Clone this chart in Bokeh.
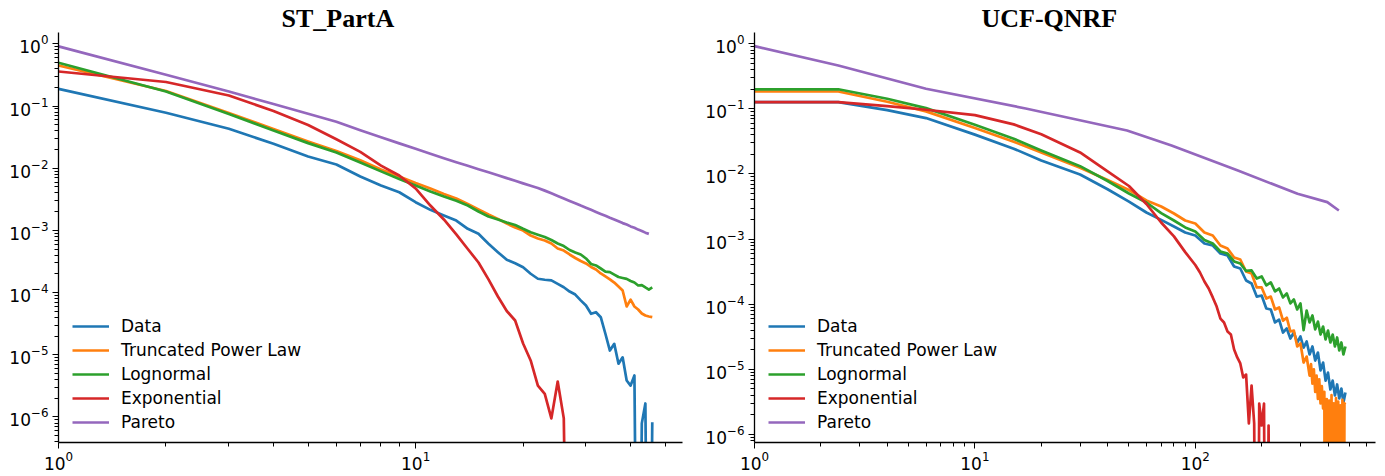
from bokeh.plotting import figure
from bokeh.layouts import row
from bokeh.models import FixedTicker, Range1d
from bokeh.embed import file_html
from bokeh.resources import INLINE

NAMES = ["Data", "Truncated Power Law", "Lognormal", "Exponential", "Pareto"]
COLORS = ["#1f77b4", "#ff7f0e", "#2ca02c", "#d62728", "#9467bd"]

# ---------------- ST_PartA ----------------
A_X = [1, 2, 3, 4, 5, 6, 7, 8, 9, 10, 11, 12, 13, 14, 15, 16, 17, 18, 19, 20, 21, 22, 23,
       24, 25, 26, 27, 28, 29, 30, 31, 32, 33, 34, 35, 36, 37, 38, 39, 40, 41, 42, 43, 44, 45, 46]
A_DATA = [0.189, 0.0778, 0.0430, 0.0247, 0.0154, 0.0115, 0.00736, 0.00528, 0.00411, 0.00284,
          0.00214, 0.00174, 0.00144, 0.00106, 0.000881, 0.000609, 0.000447, 0.000337, 0.000297, 0.000256,
          0.000201, 0.000167, 0.000161, 0.000157, 0.000138, 0.000122, 0.000104, 9.3e-5, 7.5e-5, 6.2e-5,
          4.56e-5, 4.84e-5, 4.02e-5, 2.18e-5, 1.17e-5, 1.50e-5, 7.2e-6, 9.1e-6, 3.86e-6, 3.2e-6,
          4.65e-6, 0, 7.9e-7, 1.65e-6, 0, 8.2e-7]
A_TPL = [0.448, 0.174, 0.0771, 0.0427, 0.0269, 0.0189, 0.0134, 0.00953, 0.00736, 0.00578,
         0.00472, 0.00385, 0.00326, 0.00266, 0.00217, 0.0018, 0.00153, 0.00129, 0.00111, 0.000996,
         0.000828, 0.000741, 0.000689, 0.000616, 0.000512, 0.000475, 0.00041, 0.00036, 0.000322, 0.000294,
         0.000258, 0.000235, 0.000203, 0.000182, 0.000163, 0.000145, 0.000125, 0.000108, 5.98e-5, 7.7e-5,
         5.98e-5, 5.35e-5, 4.61e-5, 4.28e-5, 4.13e-5, 4.03e-5]
A_LOGN = [0.495, 0.171, 0.0744, 0.0405, 0.0253, 0.0179, 0.0124, 0.00889, 0.0067, 0.00527,
          0.00422, 0.00351, 0.00299, 0.00251, 0.00201, 0.00167, 0.0015, 0.00134, 0.00122, 0.00106,
          0.000936, 0.000853, 0.000783, 0.000701, 0.000616, 0.000561, 0.000484, 0.000441, 0.00041, 0.000354,
          0.000288, 0.000273, 0.000244, 0.000218, 0.000214, 0.000195, 0.000178, 0.000172, 0.000166, 0.000154,
          0.000145, 0.00013, 0.000132, 0.000121, 0.000112, 0.000121]
A_EXP_X = [1, 2, 3, 4, 5, 6, 7, 8, 9, 10, 11, 12, 13, 14, 15, 16, 17, 18, 19, 20, 21, 22, 23,
           24, 25, 26, 27]
A_EXP = [0.359, 0.243, 0.1475, 0.0831, 0.0495, 0.0292, 0.0183, 0.011, 0.00764, 0.00472,
         0.00251, 0.0015, 0.000865, 0.000502, 0.000305, 0.000163, 8.65e-5, 5.06e-5, 3.56e-5, 1.52e-5,
         8.1e-6, 3.2e-6, 2.36e-6, 9.5e-7, 3.72e-6, 9.5e-7, 0]
A_PAR_X = [1, 2, 3, 4, 5, 6, 7, 8, 9, 10, 11, 12, 13, 14, 15, 16, 17, 18, 19, 20, 21, 22, 23,
           24, 25, 26, 27, 28, 29, 30, 31, 32, 33, 34, 35, 36, 37, 38, 39, 40, 41, 42, 43, 44, 45]
A_PAR = [0.91, 0.318, 0.171, 0.1077, 0.0752, 0.0557, 0.0408, 0.0314, 0.0251, 0.0205,
         0.0171, 0.0145, 0.01247, 0.01093, 0.00964, 0.00859, 0.00769, 0.00693, 0.00627, 0.00571,
         0.00523, 0.00482, 0.00436, 0.00395, 0.00359, 0.00326, 0.00298, 0.00274, 0.00251, 0.00232,
         0.00214, 0.00198, 0.00184, 0.00172, 0.0016, 0.0015, 0.0014, 0.00131, 0.00124, 0.00116,
         0.0011, 0.00103, 0.00098, 0.00092, 0.00088]

# ---------------- UCF-QNRF ----------------
B_X = [1, 2.4, 4, 6, 10, 15, 20, 30, 40, 50, 60, 70, 80, 90,
       100, 110, 120, 130, 140, 150, 160, 170, 180, 190, 200, 210, 220, 230, 240, 250, 260,
       270, 280, 290, 300, 310, 320, 330, 340, 350, 360, 370, 380, 390, 400, 410, 420, 430,
       440, 450, 460, 470, 480]
B_DATA = [0.127, 0.127, 0.0955, 0.0722, 0.0402, 0.0245, 0.0161, 0.0098, 0.00582, 0.00376,
          0.00256, 0.00197, 0.00156, 0.00126,
          1.135e-3, 8.55e-4, 7.97e-4, 6.0e-4, 5.6e-4, 3.8e-4, 3.53e-4, 2.31e-4, 2.08e-4, 1.31e-4,
          1.36e-4, 8.6e-5, 8.3e-5, 5.24e-5, 5.8e-5, 3.67e-5, 4.24e-5, 2.97e-5, 3.67e-5, 2.58e-5,
          3.19e-5, 2.16e-5, 2.67e-5, 1.69e-5, 2.24e-5, 1.36e-5, 1.81e-5, 9.6e-6, 1.27e-5, 6.7e-6,
          8.9e-6, 4.9e-6, 6.7e-6, 3.96e-6, 5.85e-6, 3.56e-6, 5.07e-6, 3.09e-6, 4.4e-6]
B_LOGN = [0.2, 0.2, 0.143, 0.1028, 0.0571, 0.0348, 0.023, 0.0132, 0.0078, 0.00501,
          0.00365, 0.0025, 0.00193, 0.00151,
          1.31e-3, 9.7e-4, 8.55e-4, 6.45e-4, 6.0e-4, 4.53e-4, 4.22e-4, 3.24e-4, 3.3e-4, 2.48e-4,
          2.67e-4, 1.94e-4, 2.16e-4, 1.57e-4, 1.74e-4, 1.27e-4, 1.46e-4, 1.03e-4, 1.18e-4, 8.3e-5,
          1.03e-4, 4.0e-5, 8.0e-5, 5.25e-5, 6.7e-5, 4.1e-5, 5.4e-5, 3.42e-5, 4.54e-5, 2.87e-5,
          3.94e-5, 2.58e-5, 3.42e-5, 2.24e-5, 3.08e-5, 1.95e-5, 2.58e-5, 1.69e-5, 2.24e-5]
B_TPL_X = [1, 2.4, 4, 6, 10, 15, 20, 30, 40, 50, 60, 70, 80, 90,
           100, 110, 120, 130, 140, 150, 160, 170, 180, 190, 200, 210, 220, 230, 240, 250, 260,
           270, 280, 290, 300, 310, 320, 330, 335, 340, 345, 350, 355, 360, 365, 370, 375, 380,
           385, 390, 395, 400, 405, 410, 415, 420, 425, 430, 435, 440, 445, 450, 455, 460, 465,
           470, 475, 480]
B_TPL = [0.185, 0.185, 0.1285, 0.0916, 0.0507, 0.0313, 0.0214, 0.01245, 0.00806, 0.00568,
         0.00392, 0.00317, 0.00247, 0.00193,
         1.74e-3, 1.26e-3, 1.135e-3, 7.97e-4, 7.18e-4, 5.22e-4, 4.86e-4, 3.18e-4, 2.96e-4, 1.81e-4,
         1.81e-4, 1.22e-4, 1.31e-4, 8.3e-5, 8.9e-5, 5.6e-5, 6.2e-5, 3.81e-5, 3.94e-5, 2.24e-5,
         2.49e-5, 1.27e-5, 1.57e-5, 8.0e-6, 1.2e-5, 6.0e-6, 1.0e-5, 4.5e-6, 8.0e-6, 3.5e-6,
         7.0e-6, 3.0e-6, 5.5e-6, 2.5e-6, 4.5e-6, 0, 3.5e-6, 0, 3.3e-6, 0, 4.0e-6, 0, 3.0e-6,
         0, 3.6e-6, 0, 3.2e-6, 0, 2.8e-6, 0, 3.4e-6, 0, 3.0e-6, 3.1e-6]
B_EXP_X = [1, 2.4, 4, 6, 10, 15, 20, 30, 40, 50, 60, 70, 80, 90,
           100, 105, 110, 115, 120, 125, 130, 135, 140, 145, 150, 155, 160, 165, 170, 175,
           180, 185, 190, 195, 200, 205, 210, 215, 220]
B_EXP = [0.127, 0.127, 0.11, 0.0969, 0.0803, 0.0578, 0.0407, 0.0214, 0.01096, 0.00654,
         0.00346, 0.0018, 0.0011, 6.3e-4,
         4.0e-4, 3.07e-4, 2.23e-4, 1.74e-4, 1.27e-4, 9.2e-5, 6.0e-5, 5.24e-5, 3.81e-5, 3.42e-5,
         2.01e-5, 1.52e-5, 1.23e-5, 7.5e-6, 8.3e-6, 1.47e-6, 5.6e-6, 1.47e-6, 0, 2.98e-6,
         1.37e-6, 2.98e-6, 0, 1.37e-6, 0]
B_PAR_X = [1, 2.4, 6, 17, 49, 78, 156, 291, 397, 448]
B_PAR = [0.919, 0.464, 0.204, 0.1014, 0.0466, 0.0274, 0.0113, 0.00496, 0.00369, 0.00275]

# axis ticks
Y_MAJOR = [1e-6, 1e-5, 1e-4, 1e-3, 1e-2, 1e-1, 1]
Y_MINOR = [m * 10.0 ** e for e in range(-7, 1) for m in range(2, 10)]
A_X_MAJOR = [1, 10]
B_X_MAJOR = [1, 10, 100]
X_MINOR = [m * 10.0 ** e for e in range(0, 3) for m in range(2, 10)]


def clip(vals):
    # non-positive values are clipped far below the axis, like matplotlib's log scale
    return [v if v > 0 else 1e-12 for v in vals]


def make_panel(title, title_offset, series, x_end, y_start, y_end, x_major, bl, br, width):
    p = figure(width=width, height=476, x_axis_type="log", y_axis_type="log",
               x_range=Range1d(1, x_end), y_range=Range1d(y_start, y_end),
               output_backend="svg", toolbar_location=None,
               min_border_left=bl, min_border_right=br, min_border_top=32, min_border_bottom=34)
    p.title.text = title
    p.title.align = "left"
    p.title.offset = title_offset
    p.title.standoff = 0
    p.title.text_font = "Liberation Serif"
    p.title.text_font_style = "bold"
    p.title.text_font_size = "26px"
    p.title.text_color = "black"

    p.xgrid.visible = False
    p.ygrid.visible = False
    p.outline_line_color = None
    p.background_fill_color = "white"
    p.border_fill_color = "white"

    for (xs, ys), name, color in zip(series, NAMES, COLORS):
        p.line(xs, clip(ys), line_color=color, line_width=2.7, line_join="round",
               legend_label=name)

    p.xaxis.ticker = FixedTicker(ticks=x_major, minor_ticks=X_MINOR)
    p.yaxis.ticker = FixedTicker(ticks=Y_MAJOR, minor_ticks=Y_MINOR)
    for ax in (p.xaxis[0], p.yaxis[0]):
        ax.axis_line_color = "black"
        ax.axis_line_width = 1.3
        ax.major_tick_line_color = "black"
        ax.minor_tick_line_color = "black"
        ax.major_tick_in = 0
        ax.major_tick_out = 6
        ax.minor_tick_in = 0
        ax.minor_tick_out = 4
        ax.major_label_text_font = "DejaVu Sans"
        ax.major_label_text_font_size = "17px"
        ax.major_label_text_color = "black"
    p.xaxis.major_label_standoff = 2
    p.yaxis.major_label_standoff = 4

    lg = p.legend[0]
    lg.location = (8, 4)
    lg.padding = 6
    lg.margin = 0
    lg.spacing = 4
    lg.glyph_width = 37
    lg.glyph_height = 20
    lg.label_height = 20
    lg.label_standoff = 12
    lg.label_text_font = "DejaVu Sans"
    lg.label_text_font_size = "17px"
    lg.label_text_color = "black"
    lg.border_line_alpha = 0
    lg.background_fill_alpha = 0
    return p


left = make_panel("ST_PartA", 223,
                  [(A_X, A_DATA), (A_X, A_TPL), (A_X, A_LOGN), (A_EXP_X, A_EXP), (A_PAR_X, A_PAR)],
                  55.9, 3.89e-7, 1.52, A_X_MAJOR, 58, 20, 702)
right = make_panel("UCF-QNRF", 227,
                   [(B_X, B_DATA), (B_TPL_X, B_TPL), (B_X, B_LOGN), (B_EXP_X, B_EXP), (B_PAR_X, B_PAR)],
                   657, 7.51e-7, 1.49, B_X_MAJOR, 50, 8, 681)

layout = row(left, right)
open("out.html", "w").write(file_html(layout, INLINE))
